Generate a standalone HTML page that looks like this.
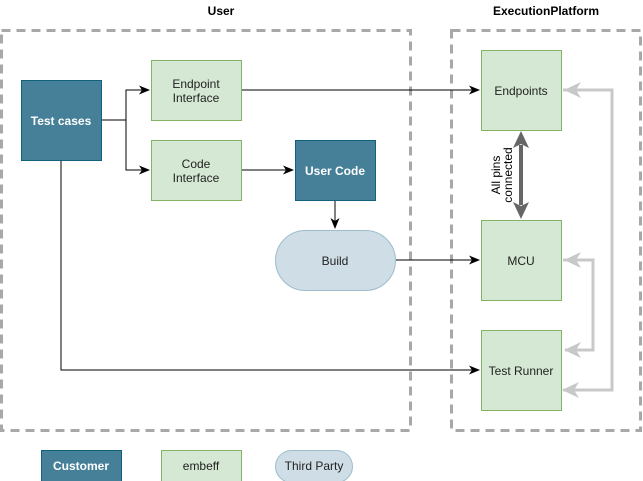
<!DOCTYPE html>
<html><head><style>body{margin:0;background:#fff}svg{display:block}text{font-family:"Liberation Sans",Arial,sans-serif;font-size:12px}</style></head><body>
<svg width="643" height="481" viewBox="0 0 643 481">
<defs>
<marker id="a" markerWidth="12" markerHeight="12" refX="10" refY="6" orient="auto" markerUnits="userSpaceOnUse"><path d="M0,1.5 L11,6 L0,10.5 L3,6z" fill="#000"/></marker>
<marker id="g" markerWidth="18" markerHeight="18" refX="16" refY="9" orient="auto" markerUnits="userSpaceOnUse"><path d="M0,1 L17,9 L0,17 L5,9z" fill="#c8c8c8"/></marker>
</defs>
<rect x="1.5" y="30.5" width="409" height="400" fill="none" stroke="#a8a8a8" stroke-width="3" stroke-dasharray="9,6"/>
<rect x="451.5" y="30.5" width="189" height="400" fill="none" stroke="#a8a8a8" stroke-width="3" stroke-dasharray="9,6"/>
<text x="221" y="15" text-anchor="middle" font-weight="bold">User</text>
<text x="546" y="15" text-anchor="middle" font-weight="bold">ExecutionPlatform</text>
<g stroke="#000" fill="none" stroke-width="1">
<path d="M101,120 H126 V90 H149" marker-end="url(#a)"/>
<path d="M126,120 V170 H149" marker-end="url(#a)"/>
<path d="M241,90 H479" marker-end="url(#a)"/>
<path d="M241,170 H293" marker-end="url(#a)"/>
<path d="M335,200 V228" marker-end="url(#a)"/>
<path d="M395,260 H479" marker-end="url(#a)"/>
<path d="M61,160 V370 H479" marker-end="url(#a)"/>
</g>
<g stroke="#c8c8c8" fill="none" stroke-width="3">
<path d="M563,90 H612 V390 H563" marker-end="url(#g)"/>
<path d="M612,90 H565" marker-end="url(#g)"/>
<path d="M563,260 H593 V350 H565" marker-end="url(#g)"/>
<path d="M593,260 H565" marker-end="url(#g)"/>
</g>
<path d="M521,145 V205" stroke="#666" stroke-width="4"/>
<path d="M521,131 L513,148 L521,144 L529,148z M521,219 L513,202 L521,206 L529,202z" fill="#666"/>
<text transform="translate(500,175) rotate(-90)" text-anchor="middle" font-size="10">All pins</text>
<text transform="translate(512,175) rotate(-90)" text-anchor="middle" font-size="10">connected</text>
<rect x="21.5" y="80.5" width="80" height="80" fill="#457f98" stroke="#10627a"/>
<text x="61" y="125" text-anchor="middle" fill="#fff" font-weight="bold">Test cases</text>
<rect x="151.5" y="60.5" width="90" height="60" fill="#d5e8d4" stroke="#82b366"/>
<text x="196" y="88" text-anchor="middle" fill="#222">Endpoint</text><text x="196" y="102" text-anchor="middle" fill="#222">Interface</text>
<rect x="151.5" y="140.5" width="90" height="60" fill="#d5e8d4" stroke="#82b366"/>
<text x="196" y="168" text-anchor="middle" fill="#222">Code</text><text x="196" y="182" text-anchor="middle" fill="#222">Interface</text>
<rect x="295.5" y="140.5" width="80" height="60" fill="#457f98" stroke="#10627a"/>
<text x="335" y="175" text-anchor="middle" fill="#fff" font-weight="bold">User Code</text>
<rect x="275.5" y="230.5" width="120" height="60" rx="30" fill="#cfdee6" stroke="#9dbccc"/>
<text x="335" y="265" text-anchor="middle" fill="#222">Build</text>
<rect x="481.5" y="50.5" width="80" height="80" fill="#d5e8d4" stroke="#82b366"/>
<text x="521" y="95" text-anchor="middle" fill="#222">Endpoints</text>
<rect x="481.5" y="220.5" width="80" height="80" fill="#d5e8d4" stroke="#82b366"/>
<text x="521" y="265" text-anchor="middle" fill="#222">MCU</text>
<rect x="481.5" y="330.5" width="80" height="80" fill="#d5e8d4" stroke="#82b366"/>
<text x="521" y="375" text-anchor="middle" fill="#222">Test Runner</text>
<rect x="41.5" y="450.5" width="80" height="32" fill="#457f98" stroke="#10627a"/>
<text x="81" y="470" text-anchor="middle" fill="#fff" font-weight="bold">Customer</text>
<rect x="161.5" y="450.5" width="80" height="32" fill="#d5e8d4" stroke="#82b366"/>
<text x="201" y="470" text-anchor="middle" fill="#222">embeff</text>
<rect x="275.5" y="450.5" width="77" height="32" rx="16" fill="#cfdee6" stroke="#9dbccc"/>
<text x="314" y="470" text-anchor="middle" fill="#222">Third Party</text>
</svg>
</body></html>
